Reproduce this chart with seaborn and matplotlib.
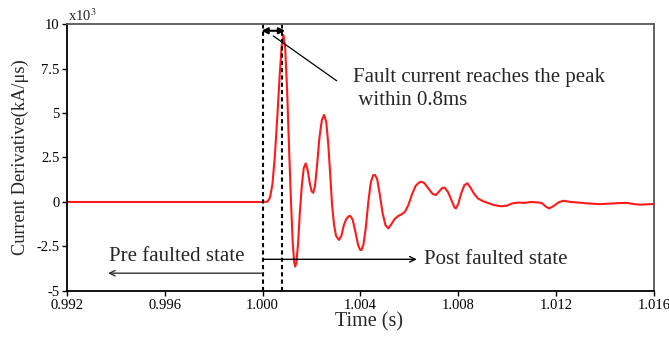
import numpy as np
import pandas as pd
import matplotlib
matplotlib.use("Agg")
import matplotlib.pyplot as plt
import seaborn as sns

# Current derivative waveform around the fault instant (values in x10^3 kA/us)
time_s = [
    0.99200, 0.99600, 1.00000, 1.00020, 1.00030, 1.00040, 1.00050, 1.00060,
    1.00070, 1.00078, 1.00085, 1.00092, 1.00100, 1.00108, 1.00116, 1.00123,
    1.00129, 1.00133, 1.00138, 1.00145, 1.00152, 1.00160, 1.00168, 1.00176,
    1.00184, 1.00192, 1.00200, 1.00207, 1.00214, 1.00222, 1.00232, 1.00242,
    1.00251, 1.00260, 1.00268, 1.00276, 1.00284, 1.00292, 1.00300, 1.00312,
    1.00322, 1.00332, 1.00342, 1.00352, 1.00359, 1.00368, 1.00378, 1.00390,
    1.00398, 1.00404, 1.00412, 1.00422, 1.00432, 1.00442, 1.00452, 1.00459,
    1.00468, 1.00478, 1.00490, 1.00502, 1.00514, 1.00526, 1.00540, 1.00555,
    1.00570, 1.00582, 1.00595, 1.00610, 1.00625, 1.00640, 1.00650, 1.00662,
    1.00678, 1.00695, 1.00708, 1.00722, 1.00735, 1.00745, 1.00758, 1.00772,
    1.00784, 1.00790, 1.00800, 1.00812, 1.00825, 1.00837, 1.00850, 1.00865,
    1.00880, 1.00900, 1.00920, 1.00945, 1.00975, 1.01000, 1.01020, 1.01045,
    1.01070, 1.01095, 1.01120, 1.01140, 1.01160, 1.01172, 1.01190, 1.01210,
    1.01229, 1.01260, 1.01290, 1.01330, 1.01379, 1.01420, 1.01460, 1.01488,
    1.01520, 1.01542, 1.01570, 1.01600,
]
di_dt = [
    0.00, 0.00, 0.00, 0.02, 0.25, 1.00, 2.60, 4.80,
    7.20, 8.80, 9.38, 8.70, 6.30, 3.00, 0.00, -2.30,
    -3.40, -3.63, -3.40, -2.30, -0.60, 0.90, 1.90, 2.17,
    1.80, 1.10, 0.60, 0.52, 0.90, 2.00, 3.60, 4.60,
    4.89, 4.50, 3.30, 1.60, -0.20, -1.30, -1.90, -2.13,
    -1.90, -1.30, -0.95, -0.80, -0.79, -1.00, -1.60, -2.40,
    -2.68, -2.70, -2.40, -1.40, 0.00, 1.10, 1.50, 1.52,
    1.30, 0.50, -0.60, -1.30, -1.48, -1.25, -0.95, -0.78,
    -0.68, -0.54, -0.20, 0.40, 0.90, 1.10, 1.14, 1.05,
    0.75, 0.45, 0.39, 0.60, 0.80, 0.80, 0.55, 0.10,
    -0.30, -0.36, -0.10, 0.50, 0.95, 1.05, 0.80, 0.45,
    0.20, 0.05, -0.05, -0.17, -0.24, -0.20, -0.08, -0.03,
    -0.05, 0.00, -0.02, -0.05, -0.28, -0.36, -0.22, -0.02,
    0.07, 0.00, -0.03, -0.08, -0.12, -0.09, -0.06, -0.05,
    -0.12, -0.15, -0.13, -0.11,
]

x_ticks = [0.992, 0.996, 1.000, 1.004, 1.008, 1.012, 1.016]
x_tick_labels = ["0.992", "0.996", "1.000", "1.004", "1.008", "1.012", "1.016"]
y_ticks = [-5, -2.5, 0, 2.5, 5, 7.5, 10]
y_tick_labels = ["-5", "-2.5", "0", "2.5", "5", "7.5", "10"]

fault_start = 1.000
peak_time = 1.0008

df = pd.DataFrame({"Time (s)": time_s, "di/dt": di_dt})

sns.set_theme(style="ticks")
plt.rcParams["font.family"] = ["Liberation Serif", "DejaVu Serif"]
plt.rcParams["mathtext.fontset"] = "stix"

fig = plt.figure(figsize=(6.69, 3.39), dpi=100)
ax = fig.add_axes([0.1001, 0.1416, 0.8775, 0.7876])

sns.lineplot(data=df, x="Time (s)", y="di/dt", ax=ax, color="#ff1a1a",
             linewidth=1.5, estimator=None, sort=False)

ax.set_xlim(0.992, 1.016)
ax.set_ylim(-5, 10)
ax.set_xticks(x_ticks)
ax.set_xticklabels(x_tick_labels, fontsize=10.5)
ax.set_yticks(y_ticks)
ax.set_yticklabels(y_tick_labels, fontsize=10.5)
ax.tick_params(direction="out", length=3.5, width=1.0, pad=2, colors="black")
ax.set_xlabel("Time (s)", fontsize=14.5)
ax.xaxis.set_label_coords(0.514, -0.08)
ax.set_ylabel("Current Derivative(kA/\u03bcs)", fontsize=13.2, labelpad=5)

for side in ("left", "bottom"):
    ax.spines[side].set_color("black")
    ax.spines[side].set_linewidth(1.3)
for side in ("top", "right"):
    ax.spines[side].set_visible(True)
    ax.spines[side].set_color("#555555")
    ax.spines[side].set_linewidth(1.3)

ax.text(0.002, 1.0, r"x10$^3$", transform=ax.transAxes, fontsize=10.5,
        ha="left", va="bottom")

# Fault inception and peak markers
for t in (fault_start, peak_time):
    ax.axvline(t, color="black", linestyle=(0, (2, 1.5)), linewidth=1.5)

ax.annotate("", xy=(fault_start - 0.00005, 9.62), xytext=(peak_time + 0.00012, 9.62),
            arrowprops=dict(arrowstyle="<|-|>", color="black", lw=1.5,
                            mutation_scale=9, shrinkA=0, shrinkB=0))
ax.plot([1.000435, 1.003027], [9.33, 6.81], color="black", linewidth=0.9)
ax.text(1.003705, 7.0, "Fault current reaches the peak", fontsize=15,
        ha="left", va="center")
ax.text(1.003705, 5.7, " within 0.8ms", fontsize=15, ha="left", va="center")

# Pre / post fault regions
ax.annotate("", xy=(0.99368, -4.0), xytext=(fault_start, -4.0),
            arrowprops=dict(arrowstyle="->", color="#333333", lw=1.0,
                            mutation_scale=10, shrinkA=0, shrinkB=0))
ax.text(0.99370, -3.05, "Pre faulted state", fontsize=15, ha="left", va="center")
ax.annotate("", xy=(1.00630, -3.22), xytext=(fault_start, -3.22),
            arrowprops=dict(arrowstyle="->", color="black", lw=1.0,
                            mutation_scale=10, shrinkA=0, shrinkB=0))
ax.text(1.00658, -3.22, "Post faulted state", fontsize=15, ha="left", va="center")

fig.savefig("out.png", dpi=100)
